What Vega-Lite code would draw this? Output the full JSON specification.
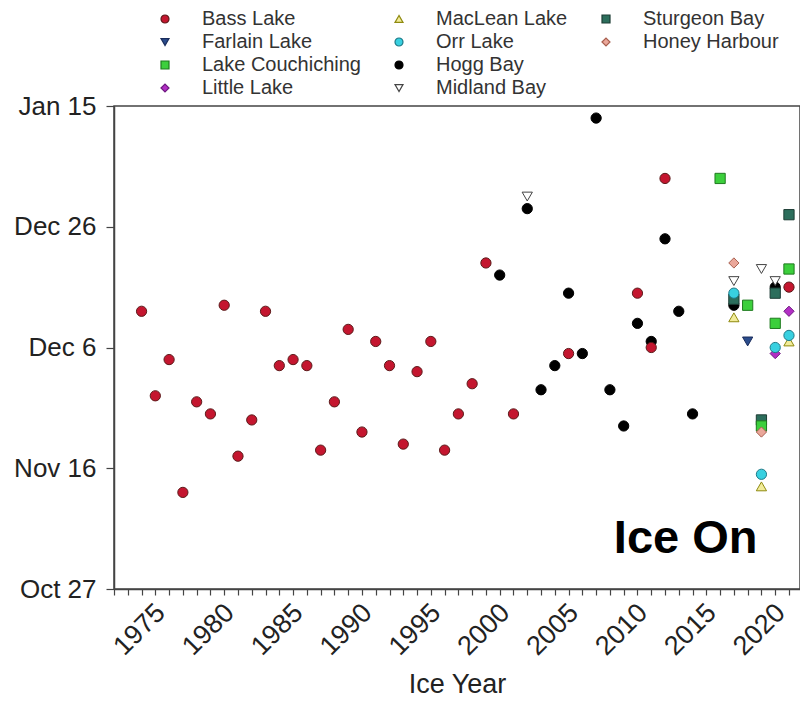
{
  "$schema": "https://vega.github.io/schema/vega-lite/v6.json",
  "width": 686,
  "height": 483,
  "autosize": {"type": "none"},
  "padding": {"left": 114, "top": 106, "right": 0, "bottom": 112},
  "background": "white",
  "config": {
    "font": "Liberation Sans",
    "view": {"stroke": "#444", "strokeWidth": 1.5},
    "axis": {"grid": false, "domainColor": "#444", "domainWidth": 1.5, "tickColor": "#444", "tickWidth": 1.2, "labelColor": "#222", "titleColor": "#222", "labelFont": "Liberation Sans", "titleFont": "Liberation Sans", "titleFontWeight": "normal"}
  },
  "datasets": {
    "obs": [
      {"lake": "Bass Lake", "year": 1974, "date": "2000-12-12"},
      {"lake": "Bass Lake", "year": 1975, "date": "2000-11-28"},
      {"lake": "Bass Lake", "year": 1976, "date": "2000-12-04"},
      {"lake": "Bass Lake", "year": 1977, "date": "2000-11-12"},
      {"lake": "Bass Lake", "year": 1978, "date": "2000-11-27"},
      {"lake": "Bass Lake", "year": 1979, "date": "2000-11-25"},
      {"lake": "Bass Lake", "year": 1980, "date": "2000-12-13"},
      {"lake": "Bass Lake", "year": 1981, "date": "2000-11-18"},
      {"lake": "Bass Lake", "year": 1982, "date": "2000-11-24"},
      {"lake": "Bass Lake", "year": 1983, "date": "2000-12-12"},
      {"lake": "Bass Lake", "year": 1984, "date": "2000-12-03"},
      {"lake": "Bass Lake", "year": 1985, "date": "2000-12-04"},
      {"lake": "Bass Lake", "year": 1986, "date": "2000-12-03"},
      {"lake": "Bass Lake", "year": 1987, "date": "2000-11-19"},
      {"lake": "Bass Lake", "year": 1988, "date": "2000-11-27"},
      {"lake": "Bass Lake", "year": 1989, "date": "2000-12-09"},
      {"lake": "Bass Lake", "year": 1990, "date": "2000-11-22"},
      {"lake": "Bass Lake", "year": 1991, "date": "2000-12-07"},
      {"lake": "Bass Lake", "year": 1992, "date": "2000-12-03"},
      {"lake": "Bass Lake", "year": 1993, "date": "2000-11-20"},
      {"lake": "Bass Lake", "year": 1994, "date": "2000-12-02"},
      {"lake": "Bass Lake", "year": 1995, "date": "2000-12-07"},
      {"lake": "Bass Lake", "year": 1996, "date": "2000-11-19"},
      {"lake": "Bass Lake", "year": 1997, "date": "2000-11-25"},
      {"lake": "Bass Lake", "year": 1998, "date": "2000-11-30"},
      {"lake": "Bass Lake", "year": 1999, "date": "2000-12-20"},
      {"lake": "Bass Lake", "year": 2001, "date": "2000-11-25"},
      {"lake": "Bass Lake", "year": 2005, "date": "2000-12-05"},
      {"lake": "Bass Lake", "year": 2010, "date": "2000-12-15"},
      {"lake": "Bass Lake", "year": 2012, "date": "2001-01-03"},
      {"lake": "Bass Lake", "year": 2021, "date": "2000-12-16"},
      {"lake": "Farlain Lake", "year": 2018, "date": "2000-12-07"},
      {"lake": "Sturgeon Bay", "year": 2019, "date": "2000-11-24"},
      {"lake": "Lake Couchiching", "year": 2016, "date": "2001-01-03"},
      {"lake": "Lake Couchiching", "year": 2018, "date": "2000-12-13"},
      {"lake": "Lake Couchiching", "year": 2019, "date": "2000-11-23"},
      {"lake": "Lake Couchiching", "year": 2020, "date": "2000-12-10"},
      {"lake": "Lake Couchiching", "year": 2021, "date": "2000-12-19"},
      {"lake": "Little Lake", "year": 2020, "date": "2000-12-05"},
      {"lake": "Little Lake", "year": 2021, "date": "2000-12-12"},
      {"lake": "MacLean Lake", "year": 2017, "date": "2000-12-11"},
      {"lake": "MacLean Lake", "year": 2019, "date": "2000-11-13"},
      {"lake": "MacLean Lake", "year": 2021, "date": "2000-12-07"},
      {"lake": "Orr Lake", "year": 2019, "date": "2000-11-15"},
      {"lake": "Orr Lake", "year": 2020, "date": "2000-12-06"},
      {"lake": "Orr Lake", "year": 2021, "date": "2000-12-08"},
      {"lake": "Hogg Bay", "year": 2000, "date": "2000-12-18"},
      {"lake": "Hogg Bay", "year": 2002, "date": "2000-12-29"},
      {"lake": "Hogg Bay", "year": 2003, "date": "2000-11-29"},
      {"lake": "Hogg Bay", "year": 2004, "date": "2000-12-03"},
      {"lake": "Hogg Bay", "year": 2005, "date": "2000-12-15"},
      {"lake": "Hogg Bay", "year": 2006, "date": "2000-12-05"},
      {"lake": "Hogg Bay", "year": 2007, "date": "2001-01-13"},
      {"lake": "Hogg Bay", "year": 2008, "date": "2000-11-29"},
      {"lake": "Hogg Bay", "year": 2009, "date": "2000-11-23"},
      {"lake": "Hogg Bay", "year": 2010, "date": "2000-12-10"},
      {"lake": "Hogg Bay", "year": 2011, "date": "2000-12-07"},
      {"lake": "Bass Lake", "year": 2011, "date": "2000-12-06"},
      {"lake": "Hogg Bay", "year": 2012, "date": "2000-12-24"},
      {"lake": "Hogg Bay", "year": 2013, "date": "2000-12-12"},
      {"lake": "Hogg Bay", "year": 2014, "date": "2000-11-25"},
      {"lake": "Hogg Bay", "year": 2017, "date": "2000-12-13"},
      {"lake": "Sturgeon Bay", "year": 2017, "date": "2000-12-14"},
      {"lake": "Orr Lake", "year": 2017, "date": "2000-12-15"},
      {"lake": "Hogg Bay", "year": 2020, "date": "2000-12-16"},
      {"lake": "Sturgeon Bay", "year": 2020, "date": "2000-12-15"},
      {"lake": "Midland Bay", "year": 2002, "date": "2000-12-31"},
      {"lake": "Midland Bay", "year": 2017, "date": "2000-12-17"},
      {"lake": "Midland Bay", "year": 2019, "date": "2000-12-19"},
      {"lake": "Midland Bay", "year": 2020, "date": "2000-12-17"},
      {"lake": "Sturgeon Bay", "year": 2021, "date": "2000-12-28"},
      {"lake": "Honey Harbour", "year": 2017, "date": "2000-12-20"},
      {"lake": "Honey Harbour", "year": 2019, "date": "2000-11-22"}
    ],
    "note": [
      {"label": "Ice On", "year": 2013.5, "date": "2000-11-02"}
    ]
  },
  "encoding": {
    "x": {
      "field": "year",
      "type": "quantitative",
      "scale": {"domain": [1972, 2021.8], "nice": false, "zero": false},
      "axis": {
        "title": "Ice Year",
        "titleFontSize": 27,
        "titlePadding": 12,
        "values": [1972,1973,1974,1975,1976,1977,1978,1979,1980,1981,1982,1983,1984,1985,1986,1987,1988,1989,1990,1991,1992,1993,1994,1995,1996,1997,1998,1999,2000,2001,2002,2003,2004,2005,2006,2007,2008,2009,2010,2011,2012,2013,2014,2015,2016,2017,2018,2019,2020,2021],
        "format": "d",
        "labelExpr": "datum.value % 5 === 0 ? datum.label : ''",
        "labelAngle": -45,
        "labelFontSize": 27,
        "labelOverlap": false,
        "labelOffset": -4,
        "tickSize": 6,
        "labelPadding": 4
      }
    },
    "y": {
      "field": "date",
      "type": "temporal",
      "scale": {"type": "utc", "nice": false, "domain": [{"year": 2000, "month": 10, "date": 27, "utc": true}, {"year": 2001, "month": 1, "date": 15, "utc": true}]},
      "axis": {
        "title": null,
        "values": [
          {"year": 2000, "month": 10, "date": 27, "utc": true},
          {"year": 2000, "month": 11, "date": 16, "utc": true},
          {"year": 2000, "month": 12, "date": 6, "utc": true},
          {"year": 2000, "month": 12, "date": 26, "utc": true},
          {"year": 2001, "month": 1, "date": 15, "utc": true}
        ],
        "format": "%b %-d",
        "labelFontSize": 26,
        "tickSize": 8,
        "labelPadding": 10
      }
    }
  },
  "layer": [
    {
      "data": {"name": "obs"},
      "mark": {"type": "point", "filled": true, "size": 105, "strokeWidth": 1, "opacity": 1},
      "encoding": {
        "color": {
          "field": "lake",
          "type": "nominal",
          "scale": {
            "domain": ["Bass Lake", "Farlain Lake", "Lake Couchiching", "Little Lake", "MacLean Lake", "Orr Lake", "Hogg Bay", "Midland Bay", "Sturgeon Bay", "Honey Harbour", " "],
            "range": ["#c4162f", "#2b4c8c", "#3ccf3c", "#b22fc4", "#f2ec9a", "#38d0e0", "#000000", "#ffffff", "#2c6e5c", "#eaa79a", "rgba(0,0,0,0)"]
          },
          "legend": {
            "title": null,
            "orient": "none",
            "legendX": 41,
            "legendY": -97,
            "columns": 3,
            "labelFontSize": 20,
            "labelColor": "#333",
            "labelFont": "Liberation Sans",
            "symbolSize": 64,
            "labelOffset": 27,
            "columnPadding": 28,
            "rowPadding": 3,
            "padding": 0,
            "symbolStrokeWidth": 1.2,
            "labelLimit": 300
          }
        },
        "stroke": {
          "field": "lake",
          "type": "nominal",
          "scale": {
            "domain": ["Bass Lake", "Farlain Lake", "Lake Couchiching", "Little Lake", "MacLean Lake", "Orr Lake", "Hogg Bay", "Midland Bay", "Sturgeon Bay", "Honey Harbour", " "],
            "range": ["#5c1a1a", "#1a2d5c", "#1f7a1f", "#6e1a80", "#8f8a10", "#1e7a88", "#000000", "#444444", "#1d3d35", "#a86050", "rgba(0,0,0,0)"]
          }
        },
        "shape": {
          "field": "lake",
          "type": "nominal",
          "scale": {
            "domain": ["Bass Lake", "Farlain Lake", "Lake Couchiching", "Little Lake", "MacLean Lake", "Orr Lake", "Hogg Bay", "Midland Bay", "Sturgeon Bay", "Honey Harbour", " "],
            "range": ["circle", "triangle-down", "square", "diamond", "triangle-up", "circle", "circle", "triangle-down", "square", "diamond", "circle"]
          }
        }
      }
    },
    {
      "data": {"name": "note"},
      "mark": {"type": "text", "fontSize": 47, "fontWeight": "bold", "align": "center", "baseline": "alphabetic", "color": "#000", "font": "Liberation Sans"},
      "encoding": {
        "text": {"field": "label"}
      }
    }
  ]
}
